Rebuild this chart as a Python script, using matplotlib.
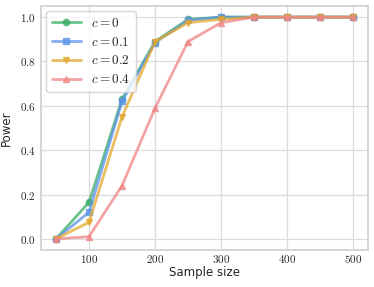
import matplotlib
matplotlib.use("Agg")
import matplotlib.pyplot as plt
import seaborn as sns
from matplotlib.ticker import FuncFormatter

sns.set_theme(style="whitegrid")
plt.rcParams['mathtext.fontset'] = 'cm'
plt.rcParams['font.family'] = ['DejaVu Sans']

sample_sizes = [50, 100, 150, 200, 250, 300, 350, 400, 450, 500]
power_c0 = [0.0, 0.165, 0.63, 0.89, 0.99, 1.0, 1.0, 1.0, 1.0, 1.0]
power_c01 = [0.0, 0.12, 0.62, 0.885, 0.985, 1.0, 1.0, 1.0, 1.0, 1.0]
power_c02 = [0.0, 0.075, 0.55, 0.89, 0.975, 0.99, 1.0, 1.0, 1.0, 1.0]
power_c04 = [0.0, 0.01, 0.24, 0.59, 0.89, 0.975, 1.0, 1.0, 1.0, 1.0]
labels = [r"$c = 0$", r"$c = 0.1$", r"$c = 0.2$", r"$c = 0.4$"]

colors = ["#3aad68", "#5b93e8", "#e3a82c", "#f08585"]
markers = ["o", "s", "v", "^"]

fig, ax = plt.subplots(figsize=(3.74, 2.87), dpi=100)
fig.subplots_adjust(left=0.11, right=0.984, top=0.979, bottom=0.129)
for y, lab, col, mk in zip([power_c0, power_c01, power_c02, power_c04], labels, colors, markers):
    ax.plot(sample_sizes, y, color=col, marker=mk, markersize=4.5, linewidth=2, alpha=0.75, label=lab)

ax.set_xticks([100, 200, 300, 400, 500])
ax.set_yticks([0.0, 0.2, 0.4, 0.6, 0.8, 1.0])
ax.xaxis.set_major_formatter(FuncFormatter(lambda v, p: r"$%d$" % v))
ax.yaxis.set_major_formatter(FuncFormatter(lambda v, p: r"$%.1f$" % v))
ax.tick_params(axis="both", labelsize=8, length=0)
ax.tick_params(axis="x", pad=2)
ax.tick_params(axis="y", pad=4)
ax.set_xlabel("Sample size", fontsize=8.5, labelpad=1)
ax.set_ylabel("Power", fontsize=8.5, labelpad=5)
for s in ax.spines.values():
    s.set_color("#d0d0d0")
ax.grid(color="#dcdcdc", linewidth=0.9)
leg = ax.legend(loc="upper left", fontsize=9.5, frameon=True, handlelength=2.2,
                handletextpad=0.8, borderaxespad=0.4, labelspacing=0.45)
fig.savefig("out.png", dpi=100)
